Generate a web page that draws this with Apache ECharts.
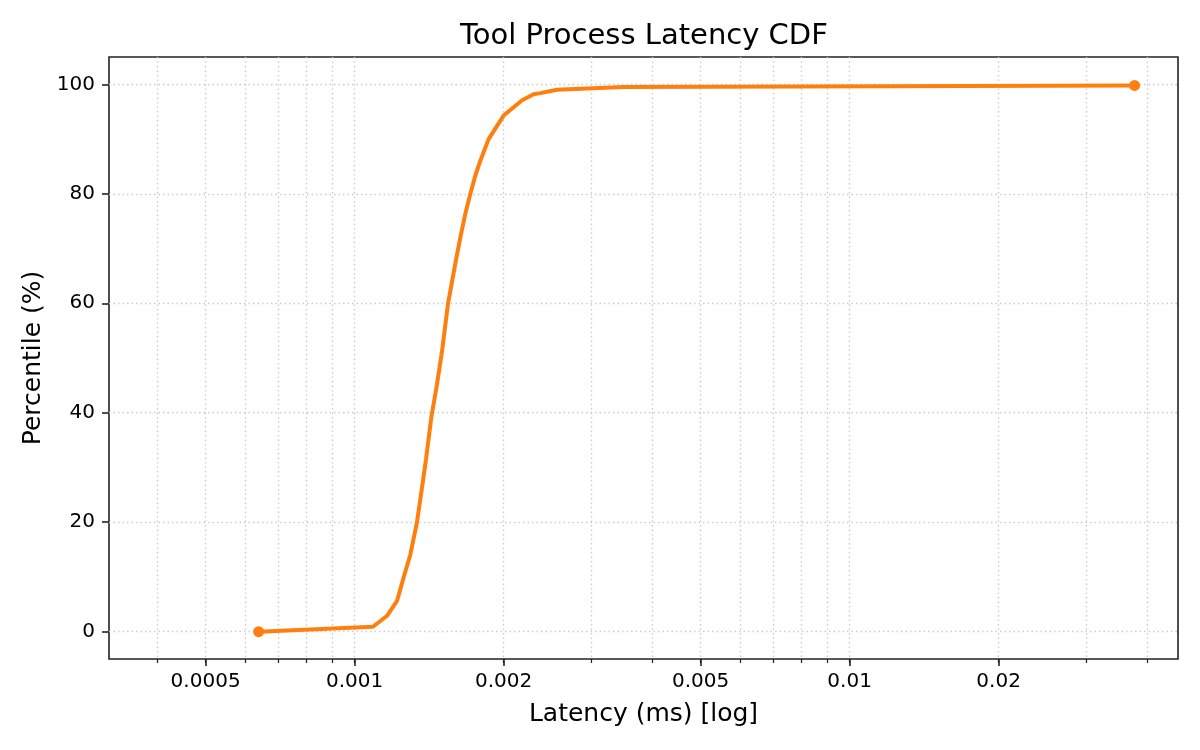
<!DOCTYPE html>
<html>
<head>
    <meta charset="UTF-8">
    <title>Tool Process Latency CDF</title>
    <style>
        html, body { margin: 0; padding: 0; background: #fff; }
        #container { width: 1200px; height: 750px; }
    </style>
</head>
<body>
    <div id="container"></div>
    <script src="https://cdn.jsdelivr.net/npm/echarts@6/dist/echarts.min.js"></script>
    <script>
        // latency in ms, percentile in %
        var latencyMs = [0.000640, 0.001089, 0.001163, 0.001218, 0.001256, 0.001296, 0.001336,
            0.001368, 0.001394, 0.001429, 0.001467, 0.001502, 0.001544, 0.001597, 0.001635,
            0.001673, 0.001713, 0.001753, 0.001794, 0.001865, 0.002000, 0.002179, 0.002299,
            0.002372, 0.002564, 0.003494, 0.03765];
        var percentile = [0, 0.9, 2.9, 5.6, 9.9, 14.1, 19.9,
            26.3, 31.5, 39.2, 45.2, 51.3, 59.9, 67.2, 72.0,
            76.3, 80.0, 83.3, 86.0, 90.0, 94.3, 97.1, 98.2,
            98.4, 99.0, 99.5, 99.8];

        var majorTicks = [0.0005, 0.001, 0.002, 0.005, 0.01, 0.02];
        var majorLabels = ['0.0005', '0.001', '0.002', '0.005', '0.01', '0.02'];
        var minorTicks = [0.0004, 0.0006, 0.0007, 0.0008, 0.0009, 0.003, 0.004,
            0.006, 0.007, 0.008, 0.009, 0.03, 0.04];
        var yTicks = [0, 20, 40, 60, 80, 100];

        var xMin = Math.log10(0.000319), xMax = Math.log10(0.04607);
        var font = 'DejaVu Sans';
        var last = latencyMs.length - 1;

        var seriesData = latencyMs.map(function (v, i) {
            var ends = (i === 0 || i === last);
            return {
                value: [Math.log10(v), percentile[i]],
                symbol: ends ? 'circle' : 'none',
                symbolSize: ends ? 11 : 0
            };
        });

        var allTicks = majorTicks.concat(minorTicks).map(Math.log10);
        var majorLog = majorTicks.map(Math.log10);

        var gridLine = { show: true, lineStyle: { color: '#cccccc', width: 1.4, type: [1.5, 3] } };

        var myChart = echarts.init(document.getElementById('container'));
        myChart.setOption({
            animation: false,
            title: {
                text: 'Tool Process Latency CDF',
                left: 460,
                top: 22,
                padding: 0,
                textStyle: { fontFamily: font, fontSize: 29, fontWeight: 'normal', color: '#000' }
            },
            grid: {
                left: 109, right: 22, top: 57, bottom: 91,
                show: true, borderColor: '#222', borderWidth: 1.6
            },
            xAxis: [{
                // minor ticks + all grid lines
                type: 'value', min: xMin, max: xMax,
                axisLine: { show: false, onZero: false },
                axisTick: { show: true, length: 4, customValues: allTicks, lineStyle: { color: '#222', width: 1.2 } },
                axisLabel: { show: false },
                splitLine: gridLine
            }, {
                // major ticks + labels
                type: 'value', min: xMin, max: xMax, position: 'bottom', offset: 0,
                axisLine: { show: false, onZero: false },
                axisTick: { show: true, length: 7, customValues: majorLog, lineStyle: { color: '#222', width: 1.6 } },
                axisLabel: {
                    show: true, margin: 13, customValues: majorLog,
                    fontFamily: font, fontSize: 20, color: '#000',
                    formatter: function (val) {
                        var best = 0;
                        for (var i = 0; i < majorLog.length; i++) {
                            if (Math.abs(majorLog[i] - val) < Math.abs(majorLog[best] - val)) best = i;
                        }
                        return majorLabels[best];
                    }
                },
                splitLine: { show: false },
                name: 'Latency (ms) [log]',
                nameLocation: 'middle',
                nameGap: 43,
                nameTextStyle: { fontFamily: font, fontSize: 25, color: '#000' }
            }],
            yAxis: {
                type: 'value', min: -5, max: 105,
                axisLine: { show: false, onZero: false },
                axisTick: { show: true, length: 7, customValues: yTicks, lineStyle: { color: '#222', width: 1.6 } },
                axisLabel: { show: true, margin: 14, customValues: yTicks, fontFamily: font, fontSize: 20, color: '#000' },
                splitLine: gridLine,
                name: 'Percentile (%)',
                nameLocation: 'middle',
                nameGap: 63,
                nameTextStyle: { fontFamily: font, fontSize: 25, color: '#000' }
            },
            series: [{
                type: 'line',
                xAxisIndex: 0,
                data: seriesData,
                showAllSymbol: true,
                lineStyle: { color: '#ff7f0e', width: 4 },
                itemStyle: { color: '#ff7f0e' }
            }]
        });
    </script>
</body>
</html>
